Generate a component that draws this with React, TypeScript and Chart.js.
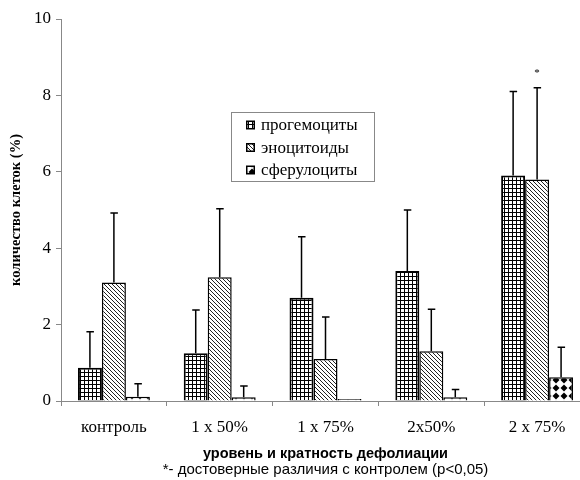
import React, { useEffect, useRef } from "react";
import { Chart, registerables } from "chart.js";

Chart.register(...registerables);

const categories = ["контроль", "1 x 50%", "1 x 75%", "2x50%", "2 x 75%"];
const seriesNames = ["прогемоциты", "эноцитоиды", "сферулоциты"];
const progemocytes = [0.87, 1.25, 2.7, 3.4, 5.9];
const progemocytesErr = [0.94, 1.13, 1.6, 1.6, 2.2];
const enocytoids = [3.1, 3.24, 1.1, 1.3, 5.8];
const enocytoidsErr = [1.82, 1.79, 1.1, 1.1, 2.4];
const spherulocytes = [0.11, 0.1, 0, 0.1, 0.62];
const spherulocytesErr = [0.34, 0.29, 0, 0.2, 0.79];
const significance = [
  ["", "", "", "", ""],
  ["", "", "", "", "*"],
  ["", "", "", "", ""],
];
const yMin = 0;
const yMax = 10;
const yStep = 2;
const yTitle = "количество клеток (%)";
const xTitle = "уровень и кратность дефолиации";
const footnote = "*- достоверные различия с контролем (p<0,05)";

const errors = [progemocytesErr, enocytoidsErr, spherulocytesErr];

function makeTile(size: number, draw: (c: CanvasRenderingContext2D) => void) {
  const cv = document.createElement("canvas");
  cv.width = size;
  cv.height = size;
  const c = cv.getContext("2d")!;
  c.fillStyle = "#fff";
  c.fillRect(0, 0, size, size);
  draw(c);
  const ctx = document.createElement("canvas").getContext("2d")!;
  return ctx.createPattern(cv, "repeat")!;
}

function gridPattern() {
  return makeTile(4, (c) => {
    c.fillStyle = "#000";
    c.fillRect(0, 0, 4, 1);
    c.fillRect(0, 0, 1, 4);
  });
}

function diagPattern() {
  return makeTile(4, (c) => {
    c.strokeStyle = "#222";
    c.lineWidth = 1;
    c.beginPath();
    c.moveTo(-1, -1);
    c.lineTo(5, 5);
    c.moveTo(-1, 3);
    c.lineTo(1, 5);
    c.moveTo(3, -1);
    c.lineTo(5, 1);
    c.stroke();
  });
}

function diamondPattern() {
  return makeTile(8, (c) => {
    c.fillStyle = "#000";
    c.beginPath();
    c.moveTo(4, 0.5);
    c.lineTo(7.5, 4);
    c.lineTo(4, 7.5);
    c.lineTo(0.5, 4);
    c.closePath();
    c.fill();
  });
}

const overlayPlugin = {
  id: "overlay",
  afterDatasetsDraw(chart: any) {
    const ctx = chart.ctx;
    const y = chart.scales.y;
    ctx.save();
    ctx.strokeStyle = "#000";
    ctx.lineWidth = 1.5;
    chart.data.datasets.forEach((ds: any, di: number) => {
      const meta = chart.getDatasetMeta(di);
      meta.data.forEach((bar: any, i: number) => {
        const v = ds.data[i];
        const e = errors[di][i];
        const x = bar.x;
        const y0 = y.getPixelForValue(v);
        const y1 = y.getPixelForValue(v + e);
        if (e > 0) {
          ctx.beginPath();
          ctx.moveTo(x, y0);
          ctx.lineTo(x, y1);
          ctx.moveTo(x - 3.5, y1);
          ctx.lineTo(x + 4, y1);
          ctx.stroke();
        }
        const s = significance[di][i];
        if (s) {
          ctx.fillStyle = "#000";
          ctx.font = "11px 'Liberation Serif'";
          ctx.textAlign = "center";
          ctx.textBaseline = "middle";
          ctx.fillText(s, x, y1 - 15);
        }
      });
    });
    ctx.restore();
  },
  afterDraw(chart: any) {
    const ctx = chart.ctx;
    const area = chart.chartArea;
    ctx.save();
    // legend
    const lx = 231.5, ly = 112.5, lw = 143, lh = 69;
    ctx.fillStyle = "#fff";
    ctx.fillRect(lx, ly, lw, lh);
    ctx.strokeStyle = "#888";
    ctx.lineWidth = 1;
    ctx.strokeRect(lx, ly, lw, lh);
    const rows = [125, 147.5, 170];
    chart.data.datasets.forEach((ds: any, di: number) => {
      const cy = rows[di];
      ctx.fillStyle = "#000";
      ctx.fillRect(246, cy - 4.5, 9, 9);
      ctx.fillStyle = ds.backgroundColor;
      ctx.fillRect(247.5, cy - 3, 6, 6);
      ctx.fillStyle = "#000";
      ctx.font = "17px 'Liberation Serif'";
      ctx.textAlign = "left";
      ctx.textBaseline = "middle";
      ctx.fillText(ds.label, 261, cy + 1);
    });
    // x title and footnote
    const cx = (area.left + area.right) / 2;
    ctx.textAlign = "center";
    ctx.textBaseline = "middle";
    ctx.fillStyle = "#000";
    ctx.font = "bold 14.5px 'Liberation Sans'";
    ctx.fillText(xTitle, cx, 454);
    ctx.font = "15px 'Liberation Sans'";
    ctx.fillText(footnote, cx, 470);
    ctx.restore();
  },
};

export default function App() {
  const ref = useRef<HTMLCanvasElement>(null);
  useEffect(() => {
    const pats = [gridPattern(), diagPattern(), diamondPattern()];
    const values = [progemocytes, enocytoids, spherulocytes];
    const chart = new Chart(ref.current!, {
      type: "bar",
      data: {
        labels: categories,
        datasets: seriesNames.map((name, i) => ({
          label: name,
          data: values[i],
          backgroundColor: pats[i] as any,
          borderColor: "#000",
          borderWidth: i === 0 ? 2 : 1.5,
          categoryPercentage: 0.68,
          barPercentage: 1,
          minBarLength: i === 2 ? 2 : 0,
        })),
      },
      options: {
        animation: false,
        responsive: true,
        maintainAspectRatio: false,
        devicePixelRatio: 1,
        layout: { padding: { top: 19, right: 10, left: 0, bottom: 0 } },
        plugins: {
          legend: { display: false },
          tooltip: { enabled: false },
        },
        scales: {
          x: {
            afterFit: (s: any) => {
              s.height = 79;
            },
            grid: {
              offset: true,
              drawOnChartArea: false,
              drawTicks: true,
              tickLength: 5,
              color: "#888",
            },
            border: { color: "#888", width: 1 },
            ticks: {
              color: "#000",
              padding: 11,
              font: { family: "'Liberation Serif'", size: 17 },
            },
          },
          y: {
            min: yMin,
            max: yMax,
            afterFit: (s: any) => {
              s.width = 61;
            },
            ticks: {
              stepSize: yStep,
              color: "#000",
              padding: 5,
              font: { family: "'Liberation Serif'", size: 17 },
            },
            grid: {
              drawOnChartArea: false,
              drawTicks: true,
              tickLength: 5,
              color: "#888",
            },
            border: { color: "#888", width: 1 },
            title: {
              display: true,
              text: yTitle,
              color: "#000",
              padding: { top: 8, bottom: 0 },
              font: { family: "'Liberation Serif'", size: 14.5, weight: "bold" },
            },
          },
        },
      },
      plugins: [overlayPlugin],
    });
    return () => chart.destroy();
  }, []);
  return (
    <div
      style={{
        position: "absolute",
        left: 0,
        top: 0,
        width: 580,
        height: 480,
        overflow: "hidden",
        background: "#fff",
      }}
    >
      <div style={{ position: "relative", width: 600, height: 480 }}>
        <canvas ref={ref} />
      </div>
    </div>
  );
}
